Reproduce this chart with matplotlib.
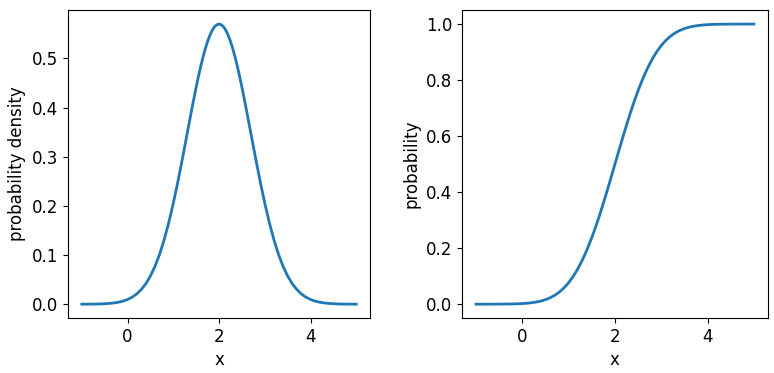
import matplotlib
matplotlib.use("Agg")
import matplotlib.pyplot as plt

# x grid of the curves (finer near the peak)
x = [-1.0, -0.9, -0.8, -0.7, -0.6, -0.5, -0.4, -0.3, -0.2, -0.1,
     0.0, 0.1, 0.2, 0.3, 0.4, 0.5, 0.6, 0.7, 0.8, 0.9,
     1.0, 1.1, 1.2, 1.3, 1.4, 1.5,
     1.55, 1.6, 1.65, 1.7, 1.75, 1.8, 1.85, 1.9, 1.95,
     2.0, 2.05, 2.1, 2.15, 2.2, 2.25, 2.3, 2.35, 2.4, 2.45,
     2.5, 2.6, 2.7, 2.8, 2.9,
     3.0, 3.1, 3.2, 3.3, 3.4, 3.5, 3.6, 3.7, 3.8, 3.9,
     4.0, 4.1, 4.2, 4.3, 4.4, 4.5, 4.6, 4.7, 4.8, 4.9, 5.0]

# probability density (left panel)
density = [0.0001, 0.0001, 0.0002, 0.0003, 0.0006, 0.0010, 0.0016, 0.0026, 0.0041, 0.0063,
           0.0096, 0.0143, 0.0209, 0.0299, 0.0418, 0.0574, 0.0771, 0.1016, 0.1311, 0.1658,
           0.2054, 0.2494, 0.2966, 0.3457, 0.3947, 0.4416,
           0.4635, 0.4841, 0.5029, 0.5199, 0.5347, 0.5471, 0.5570, 0.5641, 0.5684,
           0.5699, 0.5684, 0.5641, 0.5570, 0.5471, 0.5347, 0.5199, 0.5029, 0.4841, 0.4635,
           0.4416, 0.3947, 0.3457, 0.2966, 0.2494,
           0.2054, 0.1658, 0.1311, 0.1016, 0.0771, 0.0574, 0.0418, 0.0299, 0.0209, 0.0143,
           0.0096, 0.0063, 0.0041, 0.0026, 0.0016, 0.0010, 0.0006, 0.0003, 0.0002, 0.0001, 0.0001]

# cumulative probability (right panel)
probability = [0.0000, 0.0000, 0.0000, 0.0000, 0.0001, 0.0002, 0.0003, 0.0005, 0.0008, 0.0014,
               0.0021, 0.0033, 0.0051, 0.0076, 0.0111, 0.0161, 0.0228, 0.0316, 0.0432, 0.0580,
               0.0766, 0.0993, 0.1265, 0.1587, 0.1957, 0.2375,
               0.2601, 0.2839, 0.3085, 0.3341, 0.3605, 0.3875, 0.4152, 0.4432, 0.4715,
               0.5000, 0.5285, 0.5568, 0.5848, 0.6125, 0.6395, 0.6659, 0.6915, 0.7161, 0.7399,
               0.7625, 0.8043, 0.8413, 0.8735, 0.9007,
               0.9234, 0.9420, 0.9568, 0.9684, 0.9772, 0.9839, 0.9889, 0.9924, 0.9949, 0.9967,
               0.9979, 0.9987, 0.9992, 0.9995, 0.9997, 0.9998, 0.9999, 1.0000, 1.0000, 1.0000, 1.0000]

plt.rcParams["font.size"] = 12

fig = plt.figure(figsize=(7.74, 3.73), dpi=100)
ax1 = fig.add_axes([0.088, 0.147, 0.390, 0.826])
ax2 = fig.add_axes([0.597, 0.147, 0.395, 0.826])

ax1.plot(x, density, color="#1f77b4", linewidth=2)
ax1.set_xlabel("x")
ax1.set_ylabel("probability density")

ax2.plot(x, probability, color="#1f77b4", linewidth=2)
ax2.set_xlabel("x")
ax2.set_ylabel("probability")

fig.savefig("out.png", dpi=100)
plt.close(fig)
